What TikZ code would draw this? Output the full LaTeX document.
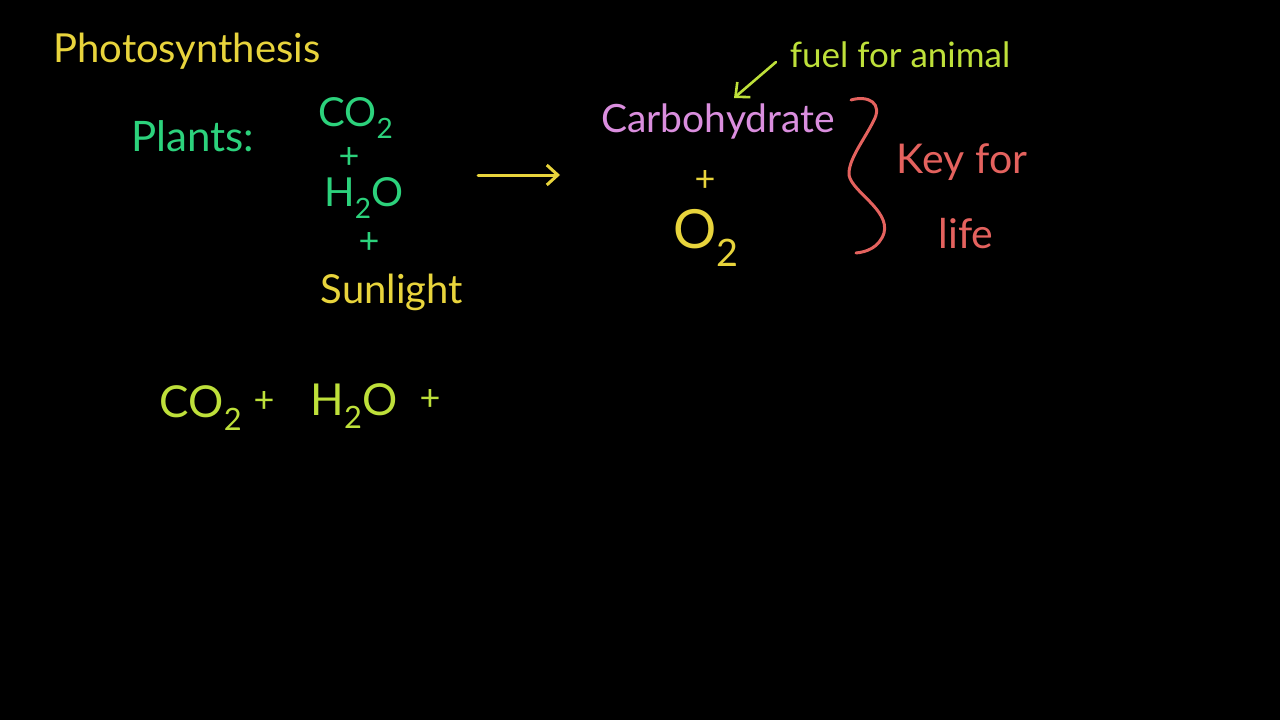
\documentclass[tikz,border=0pt]{standalone}
\usepackage{fontspec}
\setmainfont{Lato}
\usetikzlibrary{
arrows.meta,
positioning
}
\definecolor{PSBoard}{HTML}{000000}
\definecolor{PSYellow}{HTML}{E8D43C}
\definecolor{PSGreen}{HTML}{2CD27C}
\definecolor{PSPink}{HTML}{DA8EDE}
\definecolor{PSLime}{HTML}{BEE03A}
\definecolor{PSRed}{HTML}{E4625E}
\tikzset{
pstext/.style={inner sep=0pt, anchor=center},
pstitle/.style={pstext, text=PSYellow, font=\fontsize{40}{44}\selectfont},
psgreen/.style={pstext, text=PSGreen, font=\fontsize{40}{44}\selectfont},
psyellow/.style={pstext, text=PSYellow, font=\fontsize{40}{44}\selectfont},
pspink/.style={pstext, text=PSPink, font=\fontsize{39}{44}\selectfont},
psnote/.style={pstext, text=PSLime, font=\fontsize{35}{40}\selectfont},
psred/.style={pstext, text=PSRed, font=\fontsize{41}{44}\selectfont},
pslime/.style={pstext, text=PSLime, font=\fontsize{44}{48}\selectfont},
psplus/.style={pstext, font=\fontsize{36}{40}\selectfont},
psarrow/.style={-{Straight Barb[length=11pt,width=20pt]}, line width=3pt, line cap=round},
psbrace/.style={draw=PSRed, line width=3pt, line cap=round, line join=round}
}
\begin{document}
\begin{tikzpicture}[x=1pt,y=-1pt]
\fill[PSBoard] (0,0) rectangle (1280,720);
\useasboundingbox (0,0) rectangle (1280,720);

\node[pstitle] (title) at (187,51) {Photosynthesis};

\node[psgreen, font=\fontsize{42}{46}\selectfont] (plants) at (193,136) {Plants:};
\node[psgreen] (co2) at (356,118) {CO\textsubscript{2}};
\node[psplus, text=PSGreen] (p1) at (349,158) {+};
\node[psgreen] (h2o) at (364,198) {H\textsubscript{2}O};
\node[psplus, text=PSGreen] (p2) at (369,243) {+};
\node[psyellow] (sun) at (392,292) {Sunlight};

\coordinate (arrL) at (478,175);
\coordinate (arrR) at (560,175);
\draw[psarrow, draw=PSYellow] (arrL) -- (arrR);

\node[pspink] (carb) at (718,121) {Carbohydrate};
\node[psplus, text=PSYellow] (p3) at (705,181) {+};
\node[psyellow, font=\fontsize{54}{58}\selectfont] (o2) at (706,238) {O\textsubscript{2}};

\node[psnote] (fuel) at (900,55) {fuel for animal};
\coordinate (fuelS) at (776,62);
\coordinate (fuelE) at (734,98);
\draw[psarrow, draw=PSLime, line width=2.6pt] (fuelS) -- (fuelE);

\coordinate (bt) at (851,100);
\coordinate (bm) at (849,175);
\coordinate (bb) at (856,253);
\draw[psbrace] (bt) .. controls (868,95) and (884,103) .. (873,122)
  .. controls (864,140) and (848,160) .. (bm)
  .. controls (852,192) and (890,210) .. (884,233)
  .. controls (879,248) and (866,252) .. (bb);

\node[psred] (key) at (962,162) {Key for};
\node[psred] (life) at (966,234) {life};

\node[pslime] (co2b) at (201,408) {CO\textsubscript{2}};
\node[psplus, text=PSLime] (p4) at (264,402) {+};
\node[pslime] (h2ob) at (354,406) {H\textsubscript{2}O};
\node[psplus, text=PSLime] (p5) at (430,400) {+};
\end{tikzpicture}
\end{document}
